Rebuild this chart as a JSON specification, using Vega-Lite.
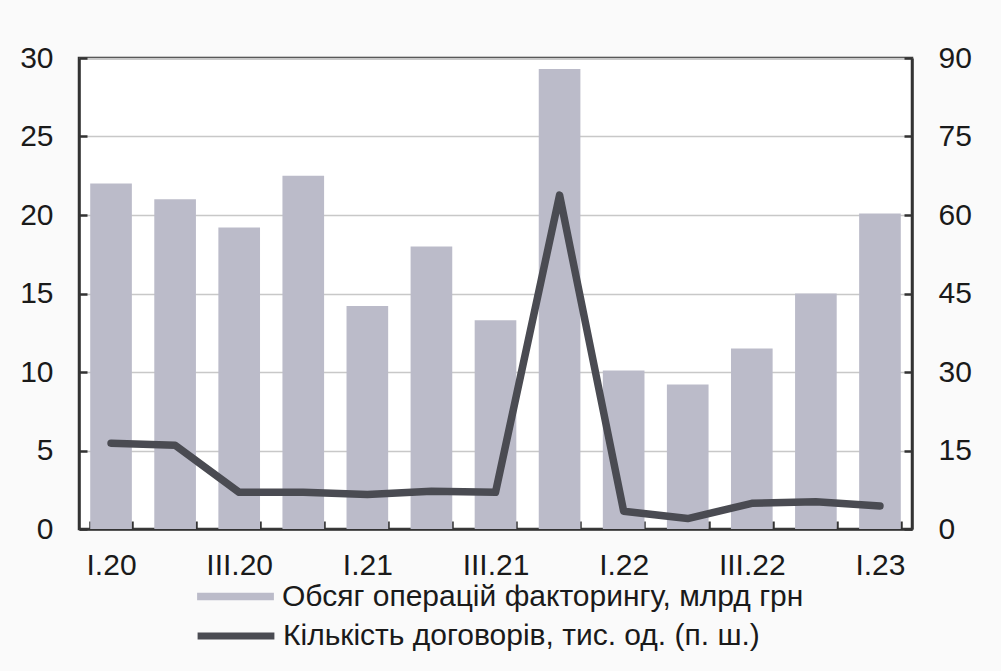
{
  "$schema": "https://vega.github.io/schema/vega-lite/v6.json",
  "width": 833,
  "height": 471,
  "autosize": {"type": "none"},
  "padding": {"left": 79, "top": 58, "right": 89, "bottom": 142},
  "background": "#fafafa",
  "config": {
    "view": {"fill": "white", "stroke": "#333333", "strokeWidth": 2.5},
    "font": "Liberation Sans",
    "axis": {
      "labelFont": "Liberation Sans",
      "labelFontSize": 30,
      "labelColor": "#1a1a1a",
      "domainColor": "#333333",
      "domainWidth": 2.5,
      "tickColor": "#333333",
      "tickWidth": 2.5,
      "tickSize": -8,
      "title": null
    },
    "legend": {
      "labelFont": "Liberation Sans",
      "labelFontSize": 30,
      "labelColor": "#1a1a1a",
      "labelLimit": 0,
      "title": null
    }
  },
  "data": {
    "values": [
      {"q": "I.20", "v": 22.0, "n": 16.4},
      {"q": "II.20", "v": 21.0, "n": 16.0},
      {"q": "III.20", "v": 19.2, "n": 7.0},
      {"q": "IV.20", "v": 22.5, "n": 7.0},
      {"q": "I.21", "v": 14.2, "n": 6.6},
      {"q": "II.21", "v": 18.0, "n": 7.2},
      {"q": "III.21", "v": 13.3, "n": 7.0},
      {"q": "IV.21", "v": 29.3, "n": 63.8},
      {"q": "I.22", "v": 10.1, "n": 3.4},
      {"q": "II.22", "v": 9.2, "n": 2.0},
      {"q": "III.22", "v": 11.5, "n": 4.9},
      {"q": "IV.22", "v": 15.0, "n": 5.2},
      {"q": "I.23", "v": 20.1, "n": 4.4}
    ]
  },
  "encoding": {
    "x": {
      "field": "q",
      "type": "nominal",
      "sort": null,
      "scale": {"paddingInner": 0.35, "paddingOuter": 0.175},
      "axis": {
        "labelAngle": 0,
        "tickBand": "extent",
        "labelPadding": 29,
        "labelExpr": "test(/^(I|III)\\./, datum.value) ? datum.label : ''",
        "grid": false
      }
    }
  },
  "layer": [
    {
      "mark": {"type": "bar"},
      "encoding": {
        "y": {
          "field": "v",
          "type": "quantitative",
          "scale": {"domain": [0, 30], "nice": false},
          "axis": {
            "orient": "left",
            "values": [0, 5, 10, 15, 20, 25, 30],
            "grid": true,
            "gridColor": "#c8c8c8",
            "gridWidth": 1.5,
            "labelPadding": 34
          }
        },
        "color": {
          "datum": "Обсяг операцій факторингу, млрд грн",
          "type": "nominal",
          "scale": {"range": ["#bbbbc9"]},
          "legend": {
            "orient": "none",
            "legendX": 118,
            "legendY": 500,
            "symbolType": "M-1,-0.1H1V0.1H-1Z",
            "symbolSize": 5900,
            "symbolStrokeWidth": 0,
            "symbolOpacity": 1,
            "labelOffset": 8
          }
        }
      }
    },
    {
      "mark": {"type": "line", "strokeWidth": 7.5, "strokeJoin": "round", "strokeCap": "round"},
      "encoding": {
        "y": {
          "field": "n",
          "type": "quantitative",
          "scale": {"domain": [0, 90], "nice": false},
          "axis": {
            "orient": "right",
            "values": [0, 15, 30, 45, 60, 75, 90],
            "grid": false,
            "labelPadding": 34
          }
        },
        "stroke": {
          "datum": "Кількість договорів, тис. од. (п. ш.)",
          "type": "nominal",
          "scale": {"range": ["#4a4b52"]},
          "legend": {
            "orient": "none",
            "legendX": 115,
            "legendY": 536,
            "symbolType": "stroke",
            "symbolSize": 5900,
            "symbolStrokeWidth": 7,
            "labelOffset": 5
          }
        }
      }
    }
  ],
  "resolve": {"scale": {"y": "independent"}}
}
